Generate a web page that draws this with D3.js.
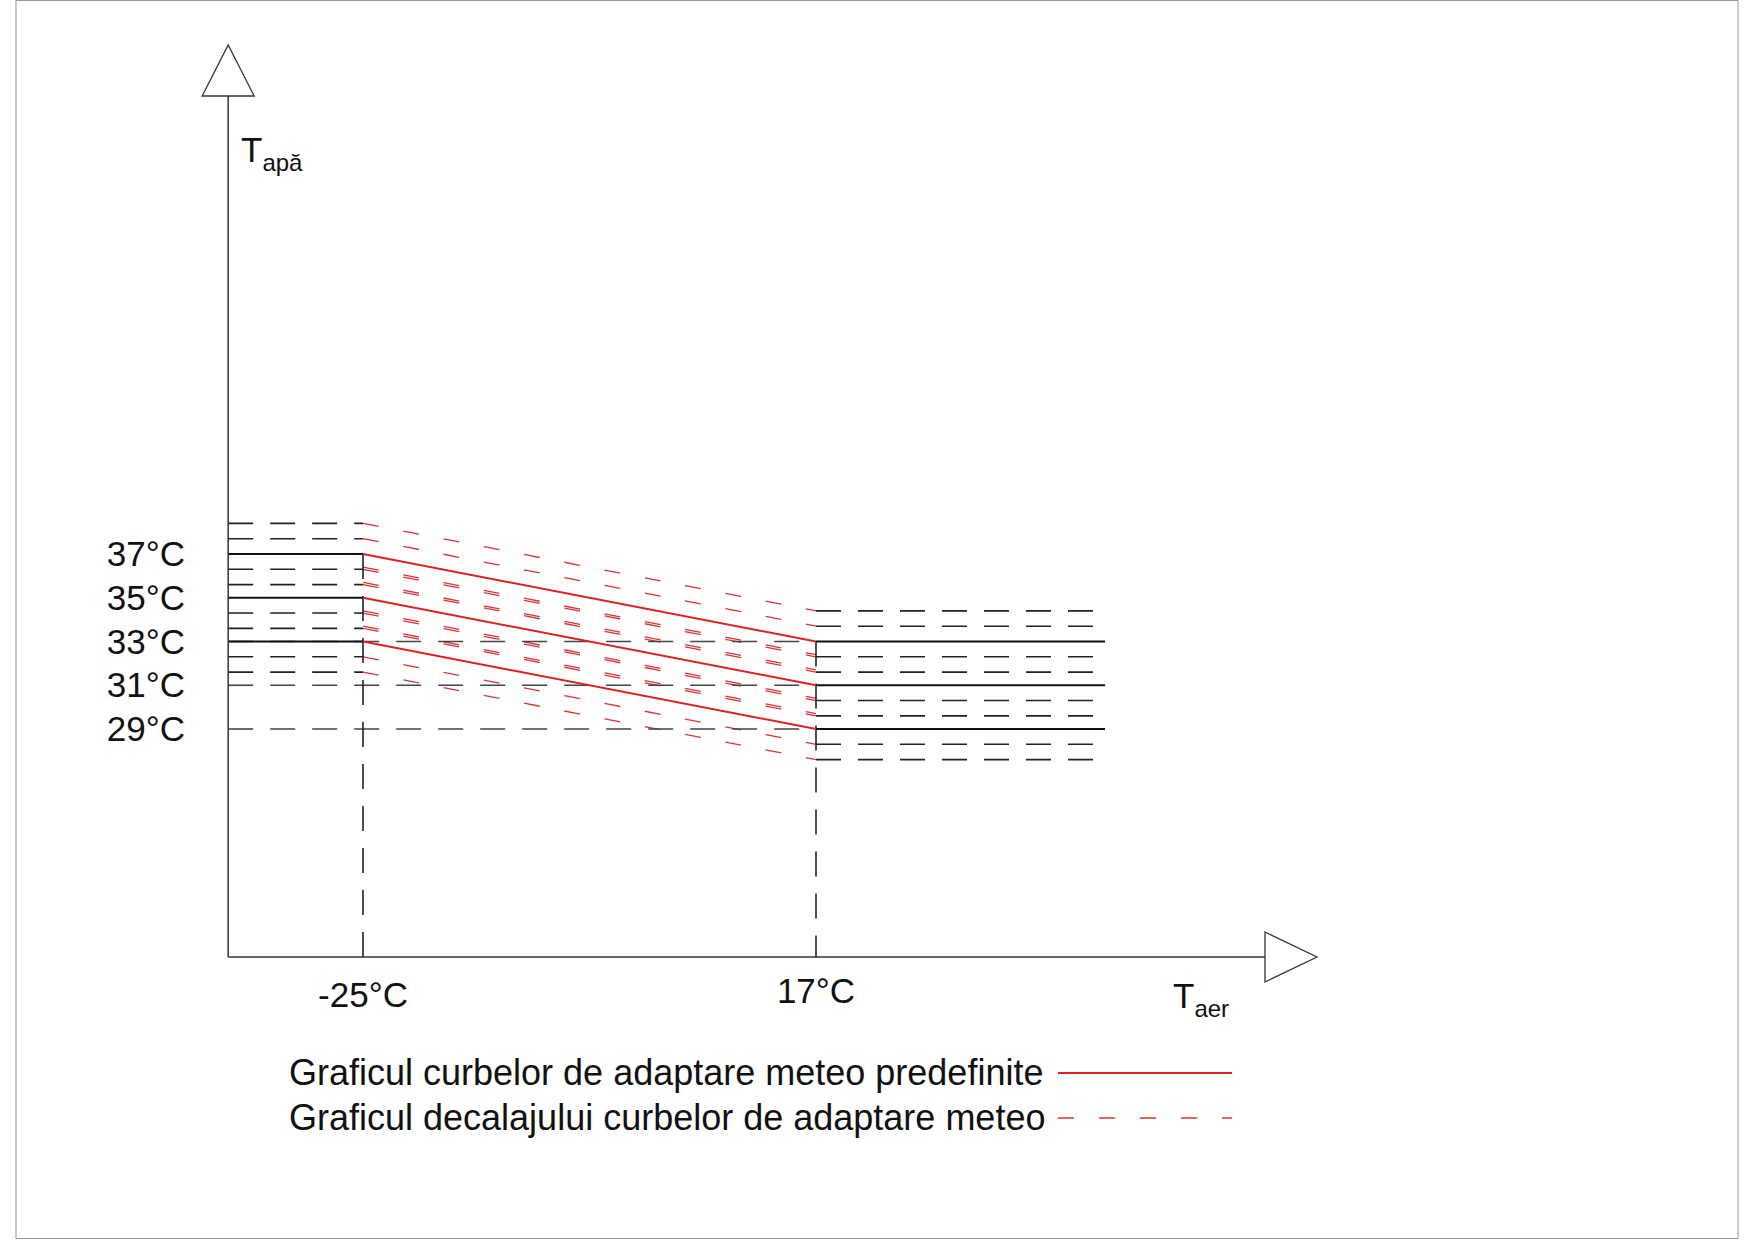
<!DOCTYPE html>
<html><head><meta charset="utf-8">
<script src="https://cdn.jsdelivr.net/npm/d3@7"></script>
<style>body{margin:0;background:#fff}text{font-family:Arial,"Liberation Sans",sans-serif;fill:#111}</style>
</head><body>
<svg id="c" width="1755" height="1240"></svg>
<script>
"use strict";

// data
var airTicks = [-25, 17];                 // air temperature break points
var waterTicks = [37, 35, 33, 31, 29];    // water temperature tick labels
var curveStart = [37, 35, 33];            // water temp at -25°C
var curveEnd = [33, 31, 29];              // water temp at 17°C
var offsets = [-1.4, -0.7, 0.7, 1.4];     // weather curve shift lines
var airMin = -37.5, airMax = 43.8;
var legendLabels = ["Graficul curbelor de adaptare meteo predefinite",
                    "Graficul decalajului curbelor de adaptare meteo"];

var svg = d3.select("#c");
svg.append("rect").attr("x", 16).attr("y", 0.5).attr("width", 1722).attr("height", 1238)
   .attr("fill", "none").attr("stroke", "#999");

var x = d3.scaleLinear().domain([-25, 17]).range([363, 816]);
var y = d3.scaleLinear().domain([29, 37]).range([729, 554]);
var x0 = x(airMin), xEnd = x(airMax), yAxis = 957;

var g = svg.append("g");
function line(x1, y1, x2, y2, color, dash, w) {
  g.append("line").attr("x1", x1).attr("y1", y1).attr("x2", x2).attr("y2", y2)
   .attr("stroke", color).attr("stroke-width", w || 1.6)
   .attr("stroke-dasharray", dash || null);
}
var bDash = "25,17", rDash = "16,25";

// unique shifted levels (overlapping shifts of neighbouring curves drawn once)
function levels(base) {
  var out = [];
  base.forEach(function (t) {
    offsets.forEach(function (o) {
      var v = t + o;
      if (!out.some(function (u) { return Math.abs(u - v) < 0.25; }) &&
          !base.some(function (u) { return Math.abs(u - v) < 0.25; })) out.push(v);
    });
  });
  return out;
}
levels(curveStart).forEach(function (v) { line(x0, y(v), x(-25), y(v), "#222", bDash); });
levels(curveEnd).forEach(function (v) { line(x(17), y(v), xEnd, y(v), "#222", bDash); });

// red dashed offset lines (slanted parts)
curveStart.forEach(function (t, i) {
  offsets.forEach(function (o) {
    line(x(-25), y(t + o), x(17), y(curveEnd[i] + o), "#d33", rDash, 1.3);
  });
});
// reference dashed lines for right-side levels
curveEnd.forEach(function (t) { line(x0, y(t), x(17), y(t), "#444", bDash); });
// verticals
line(x(-25), y(37), x(-25), yAxis, "#222", bDash);
line(x(17), y(33), x(17), yAxis, "#222", bDash);

// solid curves
curveStart.forEach(function (t, i) {
  line(x0, y(t), x(-25), y(t), "#111", null, 2);
  line(x(-25), y(t), x(17), y(curveEnd[i]), "#d22", null, 2);
  line(x(17), y(curveEnd[i]), xEnd, y(curveEnd[i]), "#111", null, 2);
});

// axes
line(x0, yAxis, 1265, yAxis, "#333", null, 1.5);
line(x0, yAxis, x0, 96, "#333", null, 1.5);
svg.append("path").attr("d", "M" + (x0 - 26) + ",96L" + x0 + ",45L" + (x0 + 26) + ",96Z")
   .attr("fill", "#fff").attr("stroke", "#333").attr("stroke-width", 1.3);
svg.append("path").attr("d", "M1265," + (yAxis - 25) + "L1317," + yAxis + "L1265," + (yAxis + 25) + "Z")
   .attr("fill", "#fff").attr("stroke", "#333").attr("stroke-width", 1.3);

// tick labels
svg.selectAll(".wt").data(waterTicks).enter().append("text")
   .attr("x", 185).attr("y", function (d) { return y(d) + 12; })
   .attr("text-anchor", "end").attr("font-size", 35).text(function (d) { return d + "°C"; });
svg.selectAll(".at").data(airTicks).enter().append("text")
   .attr("x", function (d) { return x(d); }).attr("y", function (d) { return d < 0 ? 1007 : 1003; })
   .attr("text-anchor", "middle").attr("font-size", 35).text(function (d) { return d + "°C"; });

var ta = svg.append("text").attr("x", 241).attr("y", 162).attr("font-size", 35);
ta.append("tspan").text("T");
ta.append("tspan").attr("font-size", 24).attr("dy", 9).text("apă");
var tr = svg.append("text").attr("x", 1173).attr("y", 1008).attr("font-size", 35);
tr.append("tspan").text("T");
tr.append("tspan").attr("font-size", 24).attr("dy", 9).text("aer");

// legend
legendLabels.forEach(function (s, i) {
  svg.append("text").attr("x", 289).attr("y", 1085 + i * 45).attr("font-size", 36).text(s);
});
line(1058, 1073, 1232, 1073, "#d22", null, 2);
line(1058, 1118, 1232, 1118, "#d33", rDash, 1.3);
</script>
</body></html>
